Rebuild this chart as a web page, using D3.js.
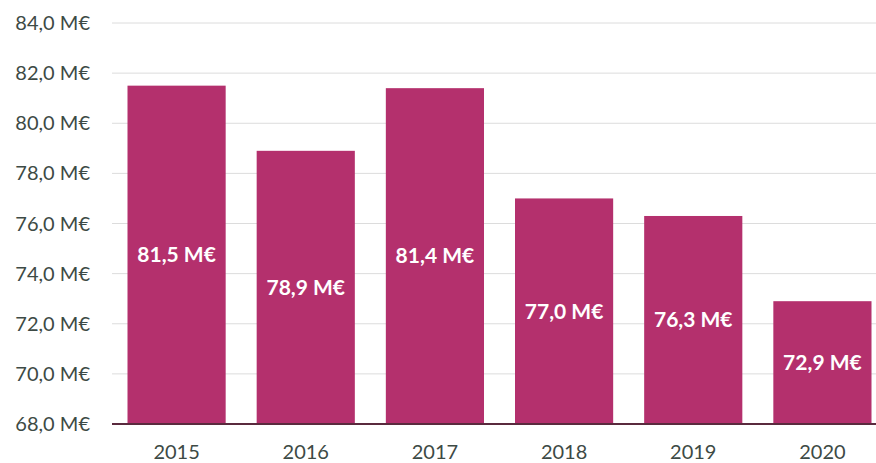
<!DOCTYPE html>
<html>
<head>
<meta charset="utf-8">
<script src="https://cdn.jsdelivr.net/npm/d3@7"></script>
<style>
  body { margin: 0; background: #fff; }
  svg text { font-family: Lato, "Open Sans", sans-serif; }
</style>
</head>
<body>
<div id="chart"></div>
<script>
const years = ['2015', '2016', '2017', '2018', '2019', '2020'];
const values = [81.5, 78.9, 81.4, 77.0, 76.3, 72.9];
const yTicks = [68, 70, 72, 74, 76, 78, 80, 82, 84];

const width = 876, height = 463;
const margin = { top: 23, right: -11, bottom: 39, left: 112 };

const fmt = v => d3.format('.1f')(v).replace('.', ',') + ' M€';

const svg = d3.select('#chart').append('svg')
    .attr('width', width)
    .attr('height', height);

const x = d3.scaleBand()
    .domain(years)
    .range([margin.left, width - margin.right])
    .paddingInner(0.24)
    .paddingOuter(0.12);

const y = d3.scaleLinear()
    .domain([68, 84])
    .range([height - margin.bottom, margin.top]);

// gridlines
svg.append('g')
    .selectAll('line')
    .data(yTicks.slice(1))
    .join('line')
    .attr('x1', margin.left)
    .attr('x2', width)
    .attr('y1', d => y(d))
    .attr('y2', d => y(d))
    .attr('stroke', '#dcdcdc')
    .attr('stroke-width', 1);

// y labels
svg.append('g')
    .selectAll('text')
    .data(yTicks)
    .join('text')
    .attr('x', 90)
    .attr('y', d => y(d))
    .attr('dy', '0.35em')
    .attr('text-anchor', 'end')
    .attr('fill', '#3d4a45')
    .attr('font-size', 20)
    .text(fmt);

// bars
svg.append('g')
    .selectAll('rect')
    .data(values)
    .join('rect')
    .attr('x', (d, i) => x(years[i]))
    .attr('width', x.bandwidth())
    .attr('y', d => y(d))
    .attr('height', d => y(68) - y(d))
    .attr('fill', '#b4306d');

// value labels
svg.append('g')
    .selectAll('text')
    .data(values)
    .join('text')
    .attr('x', (d, i) => x(years[i]) + x.bandwidth() / 2)
    .attr('y', d => (y(d) + y(68)) / 2)
    .attr('dy', '0.35em')
    .attr('text-anchor', 'middle')
    .attr('fill', '#fff')
    .attr('font-weight', 'bold')
    .attr('font-size', 21)
    .text(fmt);

// baseline
svg.append('line')
    .attr('x1', margin.left)
    .attr('x2', width)
    .attr('y1', y(68))
    .attr('y2', y(68))
    .attr('stroke', '#5a2a3e')
    .attr('stroke-width', 2);

// x labels
svg.append('g')
    .selectAll('text')
    .data(years)
    .join('text')
    .attr('x', d => x(d) + x.bandwidth() / 2)
    .attr('y', 452)
    .attr('dy', '0.35em')
    .attr('text-anchor', 'middle')
    .attr('fill', '#3d4a45')
    .attr('font-size', 20)
    .text(d => d);
</script>
</body>
</html>
